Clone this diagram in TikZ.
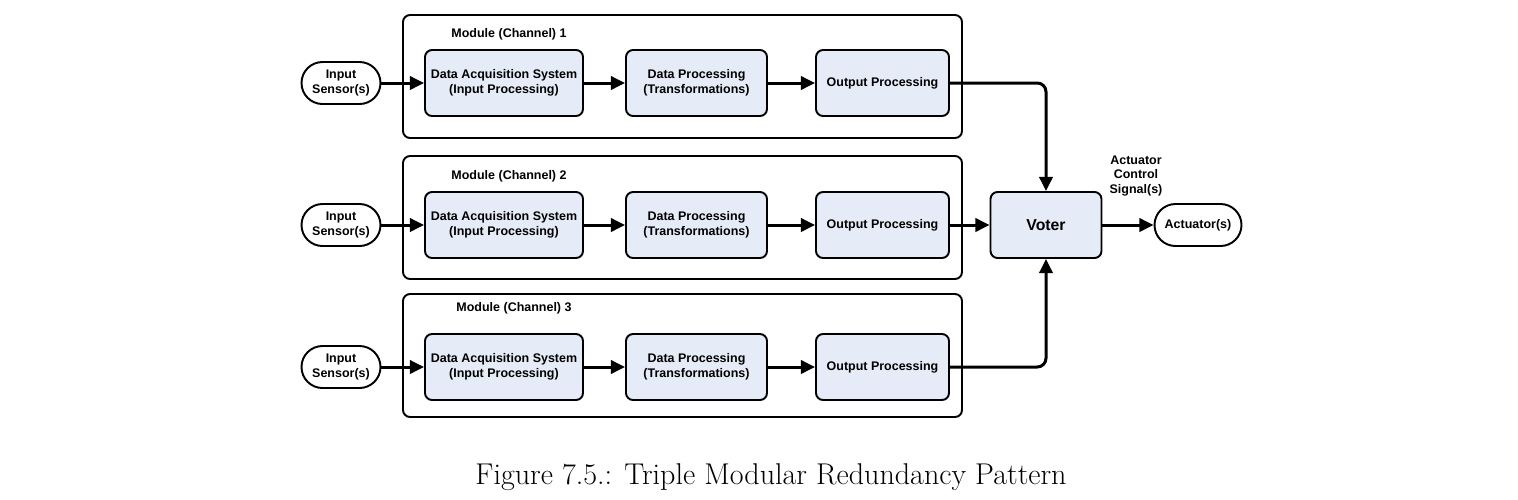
\documentclass[tikz,border=0pt]{standalone}
\usepackage{fontspec}
\usepackage{tikz}
\usetikzlibrary{arrows.meta, positioning}
\newfontfamily\diagfont{Liberation Sans}
\definecolor{boxfill}{RGB}{230,236,247}

\begin{document}
\begin{tikzpicture}[
    >={Triangle[length=8pt, width=7.5pt]},
    every node/.style={font=\diagfont\bfseries\fontsize{7.1}{8.5}\selectfont},
    frame/.style={rectangle, draw=black, line width=1.1pt, rounded corners=4pt, minimum width=11.18cm, minimum height=2.46cm},
    proc/.style={rectangle, draw=black, line width=1.1pt, fill=boxfill, rounded corners=4pt, align=center, minimum height=1.32cm},
    term/.style={rectangle, draw=black, line width=1.1pt, rounded corners=0.42cm, align=center, minimum height=0.84cm},
    flow/.style={->, line width=1.7pt}
]
\useasboundingbox (0,0) rectangle (30.36,-9.98);

% Module frames
\node[frame] (mod1) at (13.65,-1.53) {};
\node[frame] (mod2) at (13.65,-4.35) {};
\node[frame] (mod3) at (13.65,-7.11) {};
\node (lab1) at (10.18,-0.68) {Module (Channel) 1};
\node (lab2) at (10.18,-3.52) {Module (Channel) 2};
\node (lab3) at (10.28,-6.16) {Module (Channel) 3};

% Channel 1
\node[term, minimum width=1.58cm] (sens1) at (6.82,-1.66) {Input\\Sensor(s)};
\node[proc, minimum width=3.14cm] (das1) at (10.08,-1.66) {Data Acquisition System\\(Input Processing)};
\node[proc, minimum width=2.82cm] (dp1) at (13.93,-1.66) {Data Processing\\(Transformations)};
\node[proc, minimum width=2.66cm] (op1) at (17.65,-1.66) {Output Processing};

% Channel 2
\node[term, minimum width=1.58cm] (sens2) at (6.82,-4.50) {Input\\Sensor(s)};
\node[proc, minimum width=3.14cm] (das2) at (10.08,-4.50) {Data Acquisition System\\(Input Processing)};
\node[proc, minimum width=2.82cm] (dp2) at (13.93,-4.50) {Data Processing\\(Transformations)};
\node[proc, minimum width=2.66cm] (op2) at (17.65,-4.50) {Output Processing};

% Channel 3
\node[term, minimum width=1.58cm] (sens3) at (6.82,-7.34) {Input\\Sensor(s)};
\node[proc, minimum width=3.14cm] (das3) at (10.08,-7.34) {Data Acquisition System\\(Input Processing)};
\node[proc, minimum width=2.82cm] (dp3) at (13.93,-7.34) {Data Processing\\(Transformations)};
\node[proc, minimum width=2.66cm] (op3) at (17.65,-7.34) {Output Processing};

% Voter and actuator
\node[proc, minimum width=2.22cm, font=\diagfont\bfseries\fontsize{9}{11}\selectfont] (voter) at (20.92,-4.50) {Voter};
\node[term, minimum width=1.74cm] (act) at (23.96,-4.50) {Actuator(s)};
\node[align=center] (sig) at (22.72,-3.52) {Actuator\\Control\\Signal(s)};

% Links
\draw[flow] (sens1) -- (das1);
\draw[flow] (das1) -- (dp1);
\draw[flow] (dp1) -- (op1);
\draw[flow] (sens2) -- (das2);
\draw[flow] (das2) -- (dp2);
\draw[flow] (dp2) -- (op2);
\draw[flow] (sens3) -- (das3);
\draw[flow] (das3) -- (dp3);
\draw[flow] (dp3) -- (op3);
\draw[flow, rounded corners=5pt] (op1) -| (voter);
\draw[flow] (op2) -- (voter);
\draw[flow, rounded corners=5pt] (op3) -| (voter);
\draw[flow] (voter) -- (act);

% Caption
\node[font=\rmfamily\fontsize{17.1}{20}\selectfont] (cap) at (15.42,-9.55) {Figure 7.5.: Triple Modular Redundancy Pattern};
\end{tikzpicture}
\end{document}
